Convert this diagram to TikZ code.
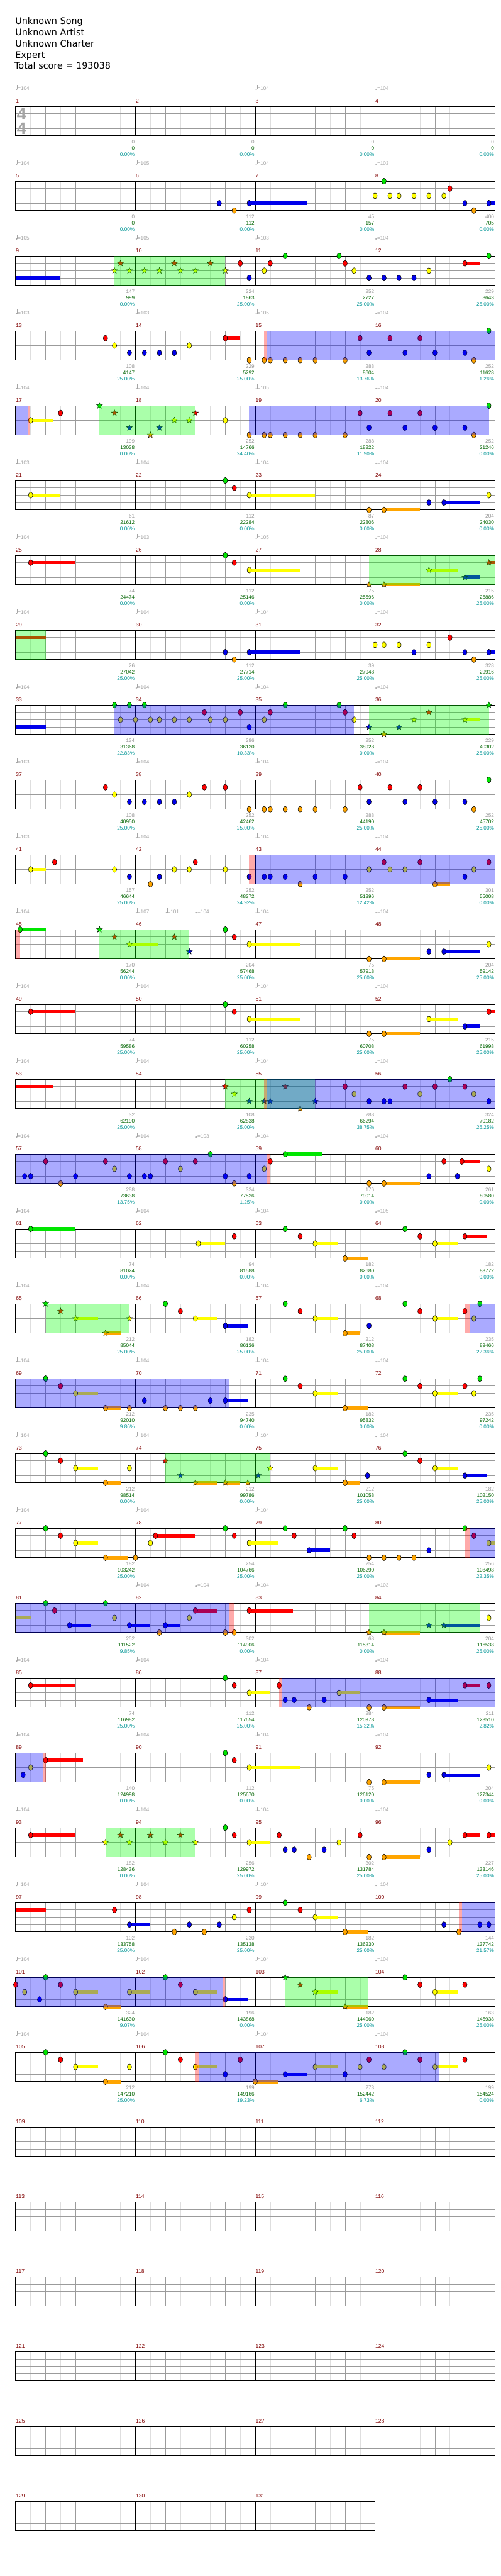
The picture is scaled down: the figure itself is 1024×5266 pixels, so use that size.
\documentclass[tikz,border=0pt]{standalone}
\usepackage{fontspec}
\setmainfont{DejaVu Sans}
\newfontfamily\chartfont{Liberation Sans}
\usetikzlibrary{shapes.geometric}

\definecolor{lane0}{RGB}{0,230,0}
\definecolor{lane1}{RGB}{255,0,0}
\definecolor{lane2}{RGB}{255,255,0}
\definecolor{lane3}{RGB}{0,0,235}
\definecolor{lane4}{RGB}{255,165,0}
\definecolor{measred}{RGB}{128,0,0}
\definecolor{basegrey}{RGB}{150,150,150}
\definecolor{totgreen}{RGB}{0,100,0}
\definecolor{pctteal}{RGB}{0,150,150}
\definecolor{tempogrey}{RGB}{165,165,165}
\definecolor{gridlight}{RGB}{222,222,222}
\definecolor{gridmid}{RGB}{155,155,155}

% staff of one row: first measure, number of measures
\newcommand{\staffrow}[2]{%
  \pgfmathtruncatemacro{\nbeats}{4*#2}
  \fill[white] (0,0) rectangle (\nbeats,4);
  \foreach \k in {1,...,\nbeats} \draw[halfbeat] (\k-0.5,0) -- (\k-0.5,4);
  \foreach \k in {1,...,\nbeats} \draw[beatline] (\k,0) -- (\k,4);
  \foreach \l in {1,2,3} \draw[laneline] (0,\l) -- (\nbeats,\l);
  \foreach \m in {1,...,#2} {
    \pgfmathtruncatemacro{\mnum}{#1+\m-1}
    \draw[barline] (4*\m-4,0) -- (4*\m-4,4);
    \node[measnum] (meas\mnum) at (4*\m-4,-0.49) {\mnum};
  }
  \draw[staffframe] (0,0) rectangle (\nbeats,4);
}
\newcommand{\tempos}[1]{%
  \foreach \b/\t in {#1} {
    \fill[tempogrey] ([xshift=2pt,yshift=1.5pt]\b,-2.22) ellipse (1.7pt and 1.3pt);
    \draw[tempogrey, line width=0.6pt] ([xshift=3.5pt,yshift=1.5pt]\b,-2.22) -- ++(0,8.5pt);
    \node[tempo] (bpm) at ([xshift=4.3pt]\b,-2.22) {=\t};
  }}
\newcommand{\scores}[1]{%
  \foreach \s/\t/\p [count=\i] in {#1} {
    \node[basescore] (base\i) at (4*\i,5.07) {\s};
    \node[totscore] (tot\i) at (4*\i,5.93) {\t};
    \node[pctscore] (pct\i) at (4*\i,6.8) {\p\%};
  }}
\newcommand{\sustains}[1]{\foreach \b/\e/\l in {#1} \fill[fill=lane\l] (\b,\l-0.23) rectangle (\e,\l+0.23);}
\newcommand{\gems}[1]{\foreach \b/\l [count=\i] in {#1} \node[gem, fill=lane\l] (gem\i) at (\b,\l) {};}
\newcommand{\stargems}[1]{\foreach \b/\l [count=\i] in {#1} \node[stargem, fill=lane\l] (star\i) at (\b,\l) {};}
\newcommand{\spzone}[2]{\fill[green, opacity=0.333] (#1,0) rectangle (#2,4);}
\newcommand{\odzone}[2]{\fill[blue, opacity=0.333] (#1,0) rectangle (#2,4);}
\newcommand{\odmark}[2]{\fill[red, opacity=0.333] (#1,0) rectangle (#2,4);}

\begin{document}
\begin{tikzpicture}[x=1pt, y=-1pt,
    row/.style={shift={(32,{217.3+153*(#1-1)})}, x=61.25pt, y=-15pt},
    header/.style={anchor=base west, inner sep=0pt, font=\fontsize{18.5}{23}\selectfont},
    halfbeat/.style={draw=gridlight, line width=0.6pt},
    beatline/.style={draw=gridmid, line width=0.7pt},
    laneline/.style={draw=gridmid, line width=1pt},
    barline/.style={draw=black, line width=0.7pt},
    staffframe/.style={draw=black, line width=1.2pt},
    measnum/.style={anchor=base west, inner sep=0pt, xshift=0.5pt, text=measred, font=\chartfont\fontsize{11}{13}\selectfont},
    tempo/.style={anchor=base west, inner sep=0pt, text=tempogrey, font=\chartfont\fontsize{10.5}{12}\selectfont},
    basescore/.style={anchor=base east, inner sep=0pt, xshift=-1.5pt, text=basegrey, font=\chartfont\fontsize{10.5}{12}\selectfont},
    totscore/.style={basescore, text=totgreen},
    pctscore/.style={basescore, text=pctteal},
    timesig/.style={inner sep=0pt, text=tempogrey, font=\chartfont\bfseries\fontsize{34}{34}\selectfont},
    gem/.style={ellipse, draw=black, line width=0.7pt, minimum width=9pt, minimum height=12pt, inner sep=0pt},
    stargem/.style={star, star points=5, star point ratio=2.3, draw=black, line width=0.5pt, minimum size=13pt, inner sep=0pt}
  ]
  \useasboundingbox (0,0) rectangle (1024,5266);
  \fill[white] (0,0) rectangle (1024,5266);

  \node[header] (song) at (31,49.3) {Unknown Song};
  \node[header] (artist) at (31,72.3) {Unknown Artist};
  \node[header] (charter) at (31,95.3) {Unknown Charter};
  \node[header] (level) at (31,118.3) {Expert};
  \node[header] (total) at (29.5,141.3) {Total score = 193038};

  % measures 1-4
  \begin{scope}[row=1]
    \staffrow{1}{4}
    \node[timesig] (sigtop) at (0.196,1.05) {4};
    \node[timesig] (sigbot) at (0.196,3) {4};
    \tempos{0/104,8/104,12/104}
    \scores{0/0/0.00,0/0/0.00,0/0/0.00,0/0/0.00}
  \end{scope}

  % measures 5-8
  \begin{scope}[row=2]
    \staffrow{5}{4}
    \tempos{0/104,4/105,8/104,12/103}
    \sustains{7.8/9.75/3,15.8/16/3}
    \gems{6.8/3,7.3/4,7.8/3,12.3/0,14.5/1,12/2,12.5/2,12.8/2,13.3/2,13.8/2,14.3/2,15/3,15.8/3,15.3/4}
    \scores{0/0/0.00,112/112/0.00,45/157/0.00,400/705/0.00}
  \end{scope}

  % measures 9-12
  \begin{scope}[row=3]
    \staffrow{9}{4}
    \tempos{0/105,4/105,8/103,12/104}
    \sustains{0/1.5/3,15/15.5/1}
    \gems{7.5/1,8.5/1,11/1,15/1,8.3/2,11.3/2,13.8/2,7.8/3,11.8/3,12.3/3,12.8/3,13.3/3,9/0,10.8/0,15.8/0}
    \stargems{3.5/1,5.3/1,6.5/1,3.3/2,3.8/2,4.3/2,4.8/2,5.5/2,6/2,7/2}
    \spzone{3.3}{7}
    \scores{147/999/0.00,324/1863/25.00,252/2727/25.00,229/3643/25.00}
  \end{scope}

  % measures 13-16
  \begin{scope}[row=4]
    \staffrow{13}{4}
    \tempos{0/103,4/103,8/105,12/104}
    \sustains{7/7.5/1}
    \gems{3/1,7/1,3.3/2,5.8/2,3.8/3,4.3/3,4.8/3,5.3/3,7.8/4,8.3/4,8.5/4,9/4,9.5/4,10/4,11/4,15.3/4,11.5/1,12.5/1,13.5/1,11.8/3,13/3,14/3,15/3,15.8/0}
    \odmark{8.3}{8.38}
    \odzone{8.38}{16}
    \scores{108/4147/25.00,229/5292/25.00,288/8604/13.76,252/11628/1.26}
  \end{scope}

  % measures 17-20
  \begin{scope}[row=5]
    \staffrow{17}{4}
    \tempos{0/104,4/104,8/105,12/104}
    \sustains{0.5/1.25/2}
    \gems{0.5/2,1.5/1,7/2,7.8/4,8.3/4,8.5/4,9/4,9.5/4,10/4,11/4,15.3/4,11.5/1,12.5/1,13.5/1,11.8/3,13/3,14/3,15/3,15.8/0}
    \stargems{2.8/0,3.3/1,6/1,5.3/2,5.8/2,3.8/3,4.8/3,4.5/4}
    \odzone{0}{0.4}
    \odmark{0.4}{0.49}
    \spzone{2.8}{6}
    \odzone{7.8}{15.8}
    \scores{199/13038/0.00,252/14766/24.40,288/18222/11.90,252/21246/0.00}
  \end{scope}

  % measures 21-24
  \begin{scope}[row=6]
    \staffrow{21}{4}
    \tempos{0/103,4/104,8/104,12/104}
    \sustains{0.5/1.5/2,7.8/10/2,12.3/13.5/4,14.3/15.5/3}
    \gems{0.5/2,7/0,7.3/1,7.8/2,11.8/4,12.3/4,13.8/3,14.3/3,15.8/2}
    \scores{61/21612/0.00,112/22284/0.00,87/22806/0.00,204/24030/0.00}
  \end{scope}

  % measures 25-28
  \begin{scope}[row=7]
    \staffrow{25}{4}
    \tempos{0/104,4/103,8/105,12/104}
    \sustains{0.5/2/1,7.8/9.5/2,12.3/13.5/4,13.8/14.75/2,15/15.5/3,15.8/16/1}
    \gems{0.5/1,7/0,7.3/1,7.8/2}
    \stargems{11.8/4,12.3/4,13.8/2,15/3,15.8/1}
    \spzone{11.8}{16}
    \scores{74/24474/0.00,112/25146/0.00,75/25596/0.00,215/26886/25.00}
  \end{scope}

  % measures 29-32
  \begin{scope}[row=8]
    \staffrow{29}{4}
    \tempos{0/104,4/104,8/104,12/104}
    \sustains{0/1/1,7.8/9.5/3,15.8/16/3}
    \gems{7/3,7.3/4,7.8/3,12/2,12.3/2,12.8/2,13.8/2,13.3/3,15/3,15.8/3,14.5/1,15.3/4}
    \spzone{0}{1}
    \scores{26/27042/25.00,112/27714/25.00,39/27948/25.00,328/29916/25.00}
  \end{scope}

  % measures 33-36
  \begin{scope}[row=9]
    \staffrow{33}{4}
    \tempos{0/104,4/104,8/104,12/104}
    \sustains{0/1/3,15/15.5/2}
    \gems{3.3/0,3.8/0,4.3/0,9/0,10.8/0,6.3/1,7.5/1,8.5/1,11/1,3.5/2,4/2,4.5/2,4.8/2,5.3/2,5.8/2,6.5/2,7/2,8.3/2,11.3/2,7.8/3}
    \stargems{11.8/3,12.3/4,12.8/3,13.3/2,13.8/1,15/2,15.8/0}
    \odzone{3.3}{11.3}
    \spzone{11.8}{15.8}
    \scores{134/31368/22.83,396/36120/10.33,252/38928/0.00,229/40302/25.00}
  \end{scope}

  % measures 37-40
  \begin{scope}[row=10]
    \staffrow{37}{4}
    \tempos{0/103,4/104,8/104,12/104}
    \gems{3/1,6.3/1,7/1,11.5/1,12.5/1,13.5/1,3.3/2,5.8/2,3.8/3,4.3/3,4.8/3,5.3/3,11.8/3,13/3,14/3,15/3,7.8/4,8.3/4,8.5/4,9/4,9.5/4,10/4,11/4,15.3/4,15.8/0}
    \scores{108/40950/25.00,252/42462/25.00,288/44190/25.00,252/45702/25.00}
  \end{scope}

  % measures 41-44
  \begin{scope}[row=11]
    \staffrow{41}{4}
    \tempos{0/103,4/104,8/104,12/104}
    \sustains{0.5/1/2,14/14.5/4}
    \gems{0.5/2,1.3/1,6/1,3.3/2,5.3/2,5.8/2,7/2,3.8/3,4.8/3,7.8/3,4.5/4,8.3/3,8.5/3,9/3,10/3,11/3,15/3,9.5/4,14/4,11.8/2,12.5/2,13/2,15.3/2,12.3/1,13.5/1,15.8/1}
    \odmark{7.8}{8}
    \odzone{8}{16}
    \scores{157/46644/25.00,252/48372/24.92,252/51396/12.42,301/55008/0.00}
  \end{scope}

  % measures 45-48
  \begin{scope}[row=12]
    \staffrow{45}{4}
    \tempos{0/104,4/107,5/101,6/104,8/104,12/104}
    \sustains{0.15/1/0,3.8/4.75/2,7.8/9.5/2,12.3/13.5/4,14.3/15.5/3}
    \gems{0.15/0,7/0,7.3/1,7.8/2,11.8/4,12.3/4,13.8/3,14.3/3,15.8/2}
    \stargems{2.8/0,3.3/1,5.3/1,3.8/2,5.8/3}
    \odmark{0}{0.14}
    \spzone{2.8}{5.8}
    \scores{170/56244/0.00,204/57468/25.00,75/57918/25.00,204/59142/25.00}
  \end{scope}

  % measures 49-52
  \begin{scope}[row=13]
    \staffrow{49}{4}
    \tempos{0/104,4/104,8/104,12/104}
    \sustains{0.5/2/1,7.8/9.5/2,12.3/13.5/4,13.8/14.75/2,15/15.5/3,15.8/16/1}
    \gems{0.5/1,7/0,7.3/1,7.8/2,11.8/4,12.3/4,13.8/2,15/3,15.8/1}
    \scores{74/59586/25.00,112/60258/25.00,75/60708/25.00,215/61998/25.00}
  \end{scope}

  % measures 53-56
  \begin{scope}[row=14]
    \staffrow{53}{4}
    \tempos{0/104,4/104,8/104,12/104}
    \sustains{0/1.25/1}
    \stargems{7/1,7.3/2,7.8/3,8.3/3,8.5/3,9/1,9.5/4,10/3}
    \gems{11/1,13/1,14/1,15/1,11.3/2,13.5/2,15.3/2,11.8/3,12.3/3,12.5/3,15.8/3,14.5/0}
    \spzone{7}{10}
    \odmark{8.3}{8.4}
    \odzone{8.4}{16}
    \scores{32/62190/25.00,108/62838/25.00,288/66294/38.75,324/70182/26.25}
  \end{scope}

  % measures 57-60
  \begin{scope}[row=15]
    \staffrow{57}{4}
    \tempos{0/104,4/104,6/103,8/104,12/104}
    \sustains{9/10.25/0,12.3/13.5/4,14.9/15.5/1}
    \gems{0.3/3,0.5/3,2/3,3.8/3,4.3/3,4.5/3,7/3,7.8/3,1/1,3/1,5/1,6/1,1.5/4,7.3/4,3.3/2,5.5/2,8.3/2,6.5/0,8.5/1,9/0,11.8/4,12.3/4,13.8/3,14.75/3,14.3/1,14.9/1,15.8/2}
    \odzone{0}{8.4}
    \odmark{8.4}{8.5}
    \scores{288/73638/13.75,324/77526/1.25,176/79014/0.00,261/80580/0.00}
  \end{scope}

  % measures 61-64
  \begin{scope}[row=16]
    \staffrow{61}{4}
    \tempos{0/104,4/104,8/104,12/105}
    \sustains{0.5/2/0,6.1/7/2,10/10.75/2,11/11.75/4,14/14.75/2,15/15.75/1}
    \gems{0.5/0,6.1/2,7.3/1,9/0,9.5/1,10/2,11/4,13/0,13.5/1,14/2,15/1}
    \scores{74/81024/0.00,94/81588/0.00,182/82680/0.00,182/83772/0.00}
  \end{scope}

  % measures 65-68
  \begin{scope}[row=17]
    \staffrow{65}{4}
    \tempos{0/104,4/104,8/104,12/104}
    \sustains{2/2.75/2,3/3.5/4,6/6.75/2,7/7.75/3,10/10.75/2,11/11.5/4,14/14.75/2}
    \stargems{1/0,1.5/1,2/2,3/4,3.8/2}
    \gems{5/0,5.5/1,6/2,7/3,9/0,9.5/1,10/2,11/4,11.8/3,13/0,13.5/1,14/2,15/1,15.5/0,15.3/2}
    \spzone{1}{3.8}
    \odmark{15}{15.15}
    \odzone{15.15}{16}
    \scores{212/85044/25.00,182/86136/25.00,212/87408/25.00,235/89466/22.36}
  \end{scope}

  % measures 69-72
  \begin{scope}[row=18]
    \staffrow{69}{4}
    \tempos{0/104,4/104,8/104,12/104}
    \sustains{2/2.75/2,3/3.5/4,7/7.75/3,10/10.75/2,11/11.75/4,14/14.75/2}
    \gems{1/0,1.5/1,2/2,3/4,3.8/4,4.3/3,5/4,5.5/4,6/4,6.5/3,7/3,9/0,9.5/1,10/2,11/4,13/0,13.5/1,14/2,15/1,15.5/0,15.3/2}
    \odzone{0}{7.13}
    \scores{212/92010/9.86,235/94740/0.00,182/95832/0.00,235/97242/0.00}
  \end{scope}

  % measures 73-76
  \begin{scope}[row=19]
    \staffrow{73}{4}
    \tempos{0/104,4/104,8/104,12/104}
    \sustains{2/2.75/2,3/3.5/4,6/6.75/4,7/7.5/4,10/10.75/2,11/11.5/4,14/14.75/2,15/15.75/3}
    \gems{1/0,1.5/1,2/2,3/4,3.8/2,10/2,11/4,11.75/3,13/0,13.5/1,14/2,15/3}
    \stargems{5/1,5.5/3,6/4,7/4,7.75/4,8.1/3,8.5/2}
    \spzone{5}{8.5}
    \scores{212/98514/0.00,212/99786/0.00,212/101058/25.00,182/102150/25.00}
  \end{scope}

  % measures 77-80
  \begin{scope}[row=20]
    \staffrow{77}{4}
    \tempos{0/104,4/104,8/104}
    \sustains{2/2.75/2,3/3.75/4,4.67/6/1,7.8/8.75/2,9.8/10.5/3,15.8/16/2}
    \gems{1/0,1.5/1,2/2,3/4,4/4,4.5/2,4.67/1,7/0,7.3/1,7.8/2,9/0,9.3/1,9.8/3,11/0,11.3/1,11.8/4,12.3/4,12.8/4,13.3/4,13.8/3,15/0,15.3/1,15.8/2}
    \odmark{15}{15.15}
    \odzone{15.15}{16}
    \scores{182/103242/25.00,254/104766/25.00,254/106290/25.00,256/108498/22.35}
  \end{scope}

  % measures 81-84
  \begin{scope}[row=21]
    \staffrow{81}{4}
    \tempos{4/104,6/104,8/104,12/103}
    \sustains{0/0.5/2,1.8/2.5/3,3.8/4.5/3,5/5.5/3,6/6.75/1,7.8/9.25/1,12.3/13.5/4,14.3/15.5/3}
    \gems{1/0,3/0,1.3/1,6/1,1.8/3,3.8/3,5/3,3.3/2,5.8/2,4.8/4,7/4,7.3/4,7.8/1,15.8/2}
    \stargems{11.8/4,12.3/4,13.8/3,14.3/3}
    \odzone{0}{7.13}
    \odmark{7.13}{7.3}
    \spzone{11.8}{15.5}
    \scores{252/111522/9.85,302/114906/0.00,68/115314/0.00,204/116538/25.00}
  \end{scope}

  % measures 85-88
  \begin{scope}[row=22]
    \staffrow{85}{4}
    \tempos{0/104,4/104,8/104,12/104}
    \sustains{0.5/2/1,7.8/8.5/2,10.8/11.5/2,12.3/13.5/4,13.8/14.75/3,15/15.5/1}
    \gems{0.5/1,7/0,7.3/1,7.8/2,8.8/1,9/3,9.3/3,10.3/3,9.8/4,10.8/2,11.8/4,12.3/4,13.8/3,15/1,15.8/1}
    \odmark{8.8}{8.9}
    \odzone{8.9}{16}
    \scores{74/116982/25.00,112/117654/25.00,284/120978/15.32,211/123510/2.82}
  \end{scope}

  % measures 89-92
  \begin{scope}[row=23]
    \staffrow{89}{4}
    \tempos{0/104,4/104,8/104,12/104}
    \sustains{1/2.25/1,7.8/9.5/2,12.3/13.5/4,14.3/15.5/3}
    \gems{0.25/3,0.5/2,1/1,7/0,7.3/1,7.8/2,11.8/4,12.3/4,13.8/3,14.3/3,15.8/2}
    \odzone{0}{0.9}
    \odmark{0.9}{1}
    \scores{140/124998/0.00,112/125670/0.00,75/126120/0.00,204/127344/0.00}
  \end{scope}

  % measures 93-96
  \begin{scope}[row=24]
    \staffrow{93}{4}
    \tempos{0/104,4/104,8/104,12/104}
    \sustains{0.5/2/1,7.8/8.5/2,12.3/13.5/4,15/15.5/1,15.8/16/1}
    \gems{0.5/1,7/0,7.3/1,7.8/2,8.8/1,9/3,9.3/3,9.8/4,10.3/3,10.8/2,11.5/1,11.8/4,12.3/4,13.8/3,14.5/2,15/1,15.8/1}
    \stargems{3/2,3.5/1,3.8/2,4.5/1,5/2,5.5/1,6/2}
    \spzone{3}{6}
    \scores{182/128436/0.00,256/129972/25.00,302/131784/25.00,227/133146/25.00}
  \end{scope}

  % measures 97-100
  \begin{scope}[row=25]
    \staffrow{97}{4}
    \tempos{0/104,4/104,8/104,12/104}
    \sustains{0/1/1,3.8/4.5/3,10/10.75/2,11/11.75/4}
    \gems{3.3/1,3.8/3,5.3/4,5.8/3,6.3/4,6.8/3,7.3/2,7.8/1,9/0,9.5/1,10/2,11/4,14.3/3,14.8/4,15.5/3,15.8/3}
    \odmark{14.8}{14.9}
    \odzone{14.9}{16}
    \scores{102/133758/25.00,230/135138/25.00,182/136230/25.00,144/137742/21.57}
  \end{scope}

  % measures 101-104
  \begin{scope}[row=26]
    \staffrow{101}{4}
    \tempos{0/104,4/104,8/104,12/104}
    \sustains{2/2.75/2,3/3.5/4,3.8/4.5/2,6/6.75/2,7/7.75/3,10/10.75/2,11/11.75/4,14/14.75/2}
    \gems{0/1,0.3/2,0.8/3,1/0,1.5/1,2/2,3/4,3.8/2,5/0,5.5/1,6/2,7/3,13/0,13.5/1,14/2,15/1}
    \stargems{9/0,9.5/1,10/2,11/4}
    \odzone{0}{6.9}
    \odmark{6.9}{7}
    \spzone{9}{11.75}
    \scores{324/141630/9.07,196/143868/0.00,182/144960/25.00,163/145938/25.00}
  \end{scope}

  % measures 105-108
  \begin{scope}[row=27]
    \staffrow{105}{4}
    \tempos{0/104,4/104,8/104,12/104}
    \sustains{2/2.75/2,3/3.5/4,6/6.75/2,8/8.75/4,9/9.75/3,10/10.75/2,14/14.75/2}
    \gems{1/0,1.5/1,2/2,3/4,3.8/2,5/0,5.5/1,6/2,7/3,7.5/1,8/4,9/3,10/2,11/3,11.5/2,11.8/1,12.3/2,13/0,13.5/1,14/2,15/1}
    \odmark{6}{6.13}
    \odzone{6.13}{14.15}
    \scores{212/147210/25.00,199/149166/19.23,273/152442/6.73,199/154524/0.00}
  \end{scope}

  % measures 109-131
  \begin{scope}[row=28]
    \staffrow{109}{4}
  \end{scope}
  \begin{scope}[row=29]
    \staffrow{113}{4}
  \end{scope}
  \begin{scope}[row=30]
    \staffrow{117}{4}
  \end{scope}
  \begin{scope}[row=31]
    \staffrow{121}{4}
  \end{scope}
  \begin{scope}[row=32]
    \staffrow{125}{4}
  \end{scope}
  \begin{scope}[row=33]
    \staffrow{129}{3}
  \end{scope}
\end{tikzpicture}
\end{document}
